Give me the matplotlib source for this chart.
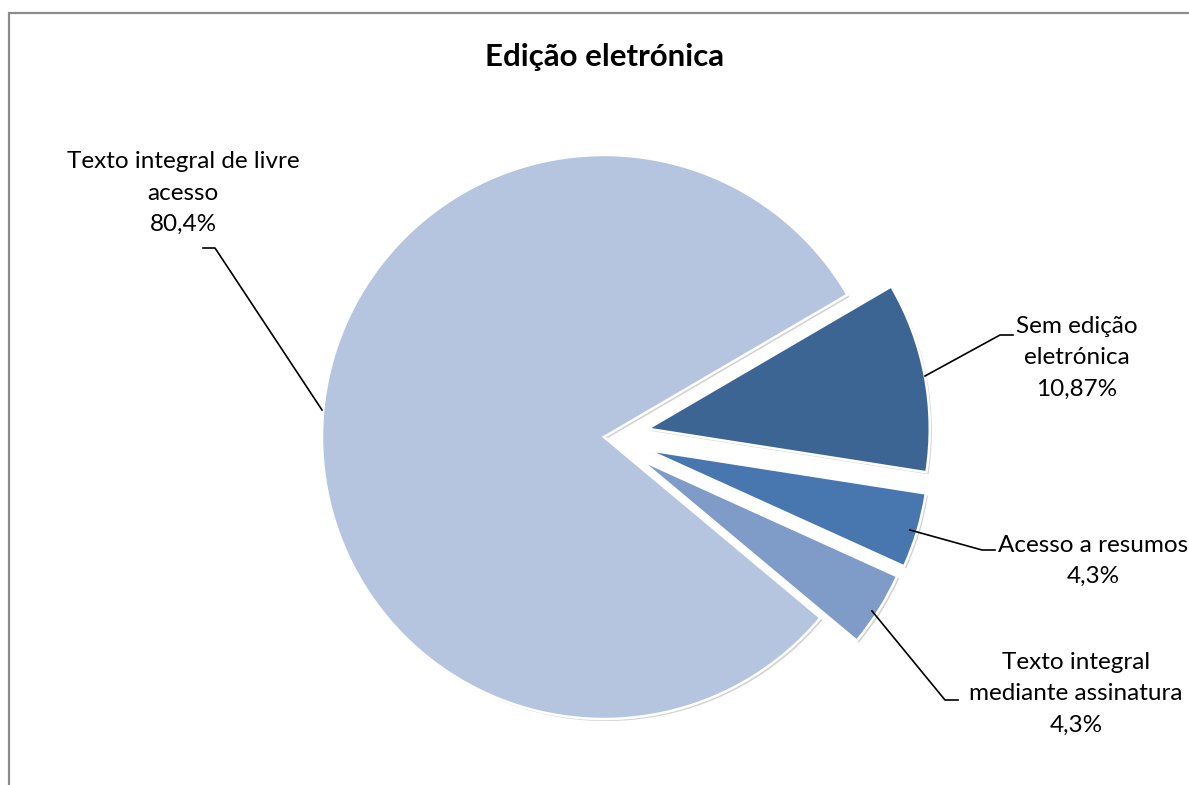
import matplotlib.pyplot as plt
import matplotlib.patheffects as pe
from matplotlib.patches import Rectangle

plt.rcParams['font.family'] = ['Lato', 'DejaVu Sans']

# data
categories = ['Sem edição\neletrónica', 'Acesso a resumos', 'Texto integral\nmediante assinatura',
              'Texto integral de livre\nacesso']
values = [10.87, 4.3, 4.3, 80.4]
value_labels = ['10,87%', '4,3%', '4,3%', '80,4%']
colors = ['#3D6594', '#4877B0', '#7F9BC8', '#B5C4DF']
explode_frac = [0.158, 0.16, 0.152, 0.0]

W, H = 1189, 785
R = 282

fig = plt.figure(figsize=(W / 100, H / 100), dpi=100)
ax = fig.add_axes([0, 0, 1, 1])

shadow = [pe.SimplePatchShadow(offset=(1.5, -1.5), shadow_rgbFace='#808080', alpha=0.35), pe.Normal()]
# matplotlib explode is in data units, so scale by the radius
wedges, _ = ax.pie(values, colors=colors, explode=[e * R for e in explode_frac],
                   startangle=30.3, counterclock=False,
                   center=(604, H - 437), radius=R,
                   wedgeprops=dict(edgecolor='white', linewidth=1.8, path_effects=shadow))

ax.set_xlim(0, W)
ax.set_ylim(0, H)
ax.set_aspect('equal')
ax.axis('off')

# chart frame (cut off at right and bottom)
ax.add_patch(Rectangle((8.5, -20), W + 20, H - 13 + 20, fill=False, edgecolor='#8c8c8c', linewidth=1.6))

ax.text(605, H - 57, 'Edição eletrónica', ha='center', va='center', fontsize=22.5, fontweight='bold')

# label centres (pixel coords) and leader lines
label_pos = [(1077, 358), (1093, 561), (1076, 694), (183, 193)]
leaders = [
    [(925, 376), (1000, 335), (1013, 335)],
    [(910, 530), (982, 550), (995, 550)],
    [(872, 611), (945, 700), (958, 700)],
    [(322, 410), (215, 248), (203, 248)],
]

for cat, vl, (x, y), pts in zip(categories, value_labels, label_pos, leaders):
    ax.text(x, H - y, cat + '\n' + vl, ha='center', va='center', fontsize=17.5, linespacing=1.6)
    ax.plot([p[0] for p in pts], [H - p[1] for p in pts], color='black', linewidth=1.2)

fig.savefig('out.png', dpi=100)
